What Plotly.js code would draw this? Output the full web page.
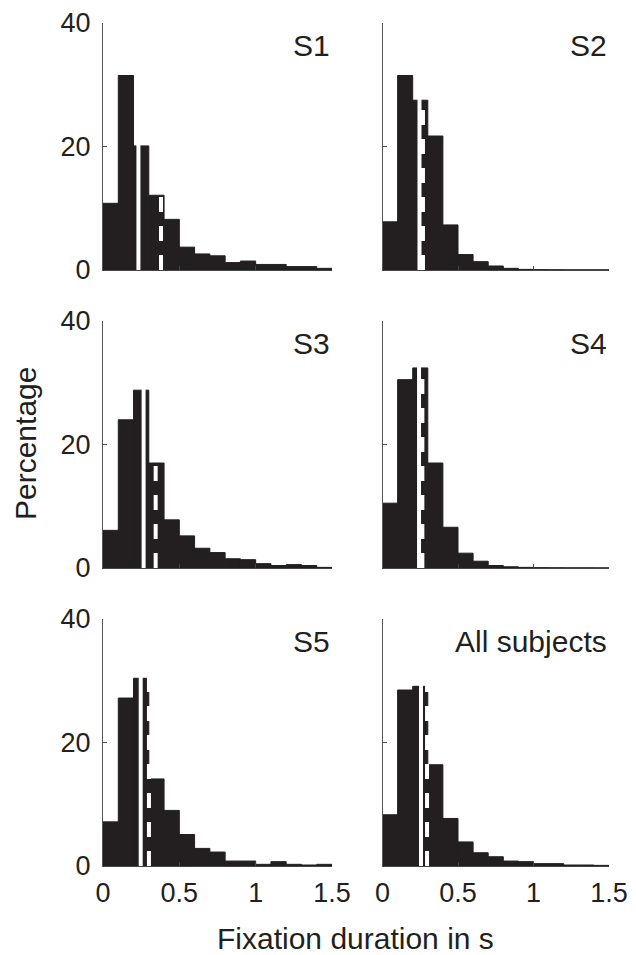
<!DOCTYPE html>
<html>
<head>
<meta charset="utf-8">
<script src="https://cdn.plot.ly/plotly-3.0.1.min.js"></script>
<style>html,body{margin:0;padding:0;background:#fff;}#chart{width:636px;height:955px;}</style>
</head>
<body>
<div id="chart"></div>
<script>
// Bin centres (s), bin width 0.1 s
const binCenters = [0.05,0.15,0.25,0.35,0.45,0.55,0.65,0.75,0.85,0.95,1.05,1.15,1.25,1.35,1.45];
const panelLabels = ["S1","S2","S3","S4","S5","All subjects"];
// Percentage of fixations per bin
const s1 = [10.8,31.5,20.1,12.1,8.2,3.7,2.6,2.3,1.2,1.45,0.9,0.9,0.55,0.55,0.27];
const s2 = [7.8,31.5,27.5,21.7,7.3,2.5,1.35,0.65,0.27,0.1,0.05,0.03,0.02,0.02,0.02];
const s3 = [6.1,24.0,28.8,17.0,7.8,5.2,3.2,2.5,1.5,1.35,0.7,0.4,0.55,0.4,0.1];
const s4 = [10.5,30.5,32.4,17.0,6.6,2.4,1.1,0.4,0.2,0.1,0.05,0.03,0.02,0.02,0.01];
const s5 = [7.15,27.2,30.4,14.1,9.0,5.1,2.85,2.26,0.8,0.8,0.27,0.7,0.27,0.16,0.27];
const allSubjects = [8.3,28.5,29.1,16.4,7.7,3.9,2.15,1.5,0.8,0.7,0.38,0.38,0.16,0.16,0.1];
// Median (solid white) and mean (dashed white) fixation durations, s
const medians = [0.232,0.245,0.266,0.242,0.247,0.255];
const means   = [0.380,0.268,0.345,0.264,0.301,0.295];

const series = [s1,s2,s3,s4,s5,allSubjects];
const barColor = '#231f20';
const fontFam = 'Liberation Sans, Arial, Helvetica, sans-serif';
const FS = 27;   // tick labels
const FT = 30;   // titles and panel labels

const W = 636, H = 955;
const colX = [[103/W, 332/W],[382.5/W, 609/W]];
const rowY = [[1-270/H, 1-23/H],[1-568/H, 1-321/H],[1-866/H, 1-619/H]];

const data = [];
const layout = {
  width: W, height: H,
  margin: {l:0,r:0,t:0,b:0},
  paper_bgcolor: '#fff', plot_bgcolor: 'rgba(0,0,0,0)',
  showlegend: false,
  bargap: 0,
  font: {family: fontFam, size: FS, color: '#231f20'},
  shapes: [], annotations: []
};

series.forEach((vals, i) => {
  const row = Math.floor(i/2), col = i%2;
  const xa = 'xaxis' + (i===0 ? '' : (i+1));
  const ya = 'yaxis' + (i===0 ? '' : (i+1));
  const xr = 'x' + (i===0 ? '' : (i+1));
  const yr = 'y' + (i===0 ? '' : (i+1));
  data.push({
    type: 'bar', x: binCenters, y: vals, width: 0.1,
    xaxis: xr, yaxis: yr,
    marker: {color: barColor, line: {color: barColor, width: 1}},
    hoverinfo: 'skip'
  });
  layout[xa] = {
    domain: colX[col], anchor: yr, range: [0, 1.5],
    tickvals: [0, 0.5, 1, 1.5], ticktext: ['0','0.5','1','1.5'],
    showticklabels: row === 2,
    ticks: 'inside', ticklen: 4, tickcolor: '#444',
    showline: true, linecolor: '#444', linewidth: 1,
    showgrid: false, zeroline: false, fixedrange: true,
    ticklabelstandoff: 3,
    tickfont: {family: fontFam, size: FS, color: '#231f20'}
  };
  layout[ya] = {
    domain: rowY[row], anchor: xr, range: [0, 40],
    tickvals: [0, 20, 40], ticktext: ['0','20','40'],
    showticklabels: col === 0,
    ticks: 'inside', ticklen: 4, tickcolor: '#555',
    showline: true, linecolor: '#555', linewidth: 1,
    showgrid: false, zeroline: false, fixedrange: true,
    ticklabelstandoff: 6,
    tickfont: {family: fontFam, size: FS, color: '#231f20'}
  };
  layout.shapes.push({
    type: 'line', xref: xr, yref: yr,
    x0: medians[i], x1: medians[i], y0: 0, y1: 40,
    line: {color: '#ffffff', width: 4}, layer: 'above'
  });
  layout.shapes.push({
    type: 'line', xref: xr, yref: yr,
    x0: means[i], x1: means[i], y0: 0, y1: 40,
    line: {color: '#ffffff', width: 4, dash: '15px,14px'}, layer: 'above'
  });
  layout.annotations.push({
    text: panelLabels[i], xref: xr + ' domain', yref: yr + ' domain',
    x: 1.0, y: 0.91, xanchor: 'right', yanchor: 'middle', showarrow: false,
    font: {family: fontFam, size: FT, color: '#231f20'}
  });
});

layout.annotations.push({
  text: 'Percentage', xref: 'paper', yref: 'paper',
  x: 25/W, y: 1-444/H, textangle: -90, xanchor: 'center', yanchor: 'middle',
  showarrow: false, font: {family: fontFam, size: FT, color: '#231f20'}
});
layout.annotations.push({
  text: 'Fixation duration in s', xref: 'paper', yref: 'paper',
  x: 355/W, y: 1-938/H, xanchor: 'center', yanchor: 'middle',
  showarrow: false, font: {family: fontFam, size: FT, color: '#231f20'}
});

Plotly.newPlot('chart', data, layout, {displayModeBar: false, staticPlot: true});
</script>
</body>
</html>
